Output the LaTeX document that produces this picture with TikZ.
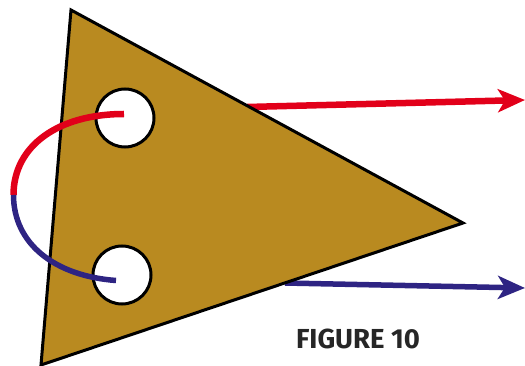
\documentclass[tikz,border=0pt]{standalone}
\usepackage{fontspec}
\setmainfont{Fira Sans}
\usepackage{tikz}
\usetikzlibrary{calc, arrows.meta}
\definecolor{platebrown}{HTML}{B98A20}
\definecolor{wirered}{HTML}{E2001A}
\definecolor{wireblue}{HTML}{2E2483}
\tikzset{
    hole/.style={circle, draw=black, fill=white, line width=3pt, minimum size=58pt, inner sep=0pt},
    redwire/.style={draw=wirered, line width=6.5pt},
    bluewire/.style={draw=wireblue, line width=5.5pt},
    outtip/.style={-{Stealth[length=27pt, width=23pt, inset=7pt]}},
}
\begin{document}
\begin{tikzpicture}[x=1pt,y=-1pt]
    \useasboundingbox (0,0) rectangle (525,366);

    % --- plate ---
    \coordinate (A) at (71,10);
    \coordinate (B) at (463,223);
    \coordinate (C) at (41,365);

    % --- output wires, from the plate edge ---
    \coordinate (redstart) at (247,107);
    \coordinate (redend) at (525,100);
    \coordinate (bluestart) at (285,283);
    \coordinate (blueend) at (525,288);
    \draw[redwire, outtip] (redstart) -- (redend);
    \draw[bluewire, outtip] (bluestart) -- (blueend);

    \draw[fill=platebrown, draw=black, line width=3pt, line join=miter] (A) -- (B) -- (C) -- cycle;

    % --- holes ---
    \node[hole] (topHole) at (125,118) {};
    \node[hole] (lowHole) at (122,275) {};

    % --- loop, red half then blue half ---
    \coordinate (redtip) at (124,114);
    \coordinate (bluetip) at (116,280.5);
    \coordinate (joint) at (13.5,195);
    \draw[redwire] (redtip) .. controls (58,114) and (13.5,146) .. (joint);
    \draw[bluewire] (joint) .. controls (13.5,244) and (55,276) .. (bluetip);

    \node[text=black!85, font=\bfseries\fontsize{27.5}{27.5}\selectfont, inner sep=0pt] (caption) at (358,339) {FIGURE 10};
\end{tikzpicture}
\end{document}
